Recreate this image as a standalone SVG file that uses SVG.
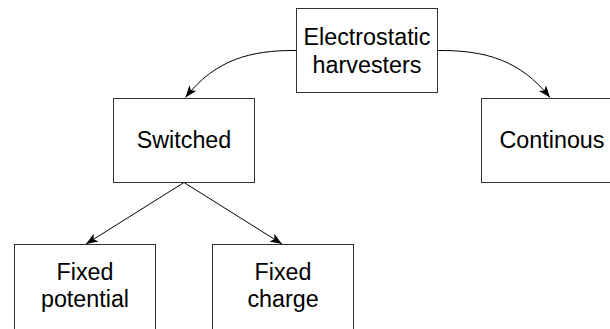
<svg xmlns="http://www.w3.org/2000/svg" width="610" height="329" viewBox="0 0 610 329">
<defs>
<style>
.box{fill:#fff;stroke:#333;stroke-width:1}
.lbl{font-family:"Liberation Sans",Arial,sans-serif;font-size:23.3px;fill:#000;text-anchor:middle}
.edge{fill:none;stroke:#000;stroke-width:1}
</style>
<marker id="arr" markerWidth="14" markerHeight="12" refX="12" refY="6" orient="auto" markerUnits="userSpaceOnUse">
<path d="M0,1.5 L12,6 L0,10.5 L3,6 Z" fill="#000"/>
</marker>
</defs>
<rect width="610" height="329" fill="#fff"/>
<g id="connectors">
<path class="edge" d="M296.5,50.5 C250,50 215,60 185.5,97.5" marker-end="url(#arr)"/>
<path class="edge" d="M437.5,50.5 C485,50 520,60 550,97.5" marker-end="url(#arr)"/>
<path class="edge" d="M184,182.5 L86,244" marker-end="url(#arr)"/>
<path class="edge" d="M184,182.5 L282,244" marker-end="url(#arr)"/>
</g>
<g id="electrostatic">
<rect class="box" x="296.5" y="8.5" width="141" height="84"/>
<text class="lbl" x="367" y="45">Electrostatic</text>
<text class="lbl" x="367" y="73">harvesters</text>
</g>
<g id="switched">
<rect class="box" x="113.5" y="98.5" width="141" height="84"/>
<text class="lbl" x="184" y="148">Switched</text>
</g>
<g id="continous">
<rect class="box" x="481.5" y="98.5" width="141" height="84"/>
<text class="lbl" x="552" y="148">Continous</text>
</g>
<g id="fixed-potential">
<rect class="box" x="14.5" y="244.5" width="141" height="90"/>
<text class="lbl" x="85" y="280">Fixed</text>
<text class="lbl" x="85" y="307">potential</text>
</g>
<g id="fixed-charge">
<rect class="box" x="212.5" y="244.5" width="141" height="90"/>
<text class="lbl" x="283" y="280">Fixed</text>
<text class="lbl" x="283" y="307">charge</text>
</g>
</svg>
